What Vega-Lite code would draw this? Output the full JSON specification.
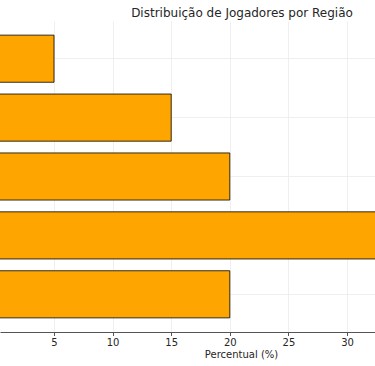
{
  "$schema": "https://vega.github.io/schema/vega-lite/v6.json",
  "autosize": "none",
  "width": 375,
  "height": 311,
  "padding": {"top": 21, "left": 0, "right": 0, "bottom": 34},
  "background": "white",
  "title": {
    "text": "Distribuição de Jogadores por Região",
    "font": "DejaVu Sans",
    "fontSize": 12,
    "fontWeight": "normal",
    "color": "#262626",
    "anchor": "middle",
    "dx": 54.5,
    "offset": 1
  },
  "config": {
    "view": {"stroke": null},
    "axis": {
      "labelFont": "DejaVu Sans",
      "titleFont": "DejaVu Sans",
      "gridColor": "#ebebeb",
      "gridWidth": 0.8
    }
  },
  "data": {
    "values": [
      {"regiao": "Norte", "percentual": 5},
      {"regiao": "Centro-Oeste", "percentual": 15},
      {"regiao": "Nordeste", "percentual": 20},
      {"regiao": "Sudeste", "percentual": 40},
      {"regiao": "Sul", "percentual": 20}
    ]
  },
  "mark": {"type": "bar", "color": "#FFA500", "stroke": "#000000", "strokeWidth": 0.8, "clip": true},
  "encoding": {
    "y": {
      "field": "regiao",
      "type": "nominal",
      "sort": null,
      "scale": {"paddingInner": 0.2, "paddingOuter": 0.24},
      "axis": {"labels": false, "ticks": false, "domain": false, "title": null, "grid": true}
    },
    "x": {
      "field": "percentual",
      "type": "quantitative",
      "scale": {"domain": [0.39, 32.39], "nice": false, "zero": false},
      "axis": {
        "values": [5, 10, 15, 20, 25, 30],
        "title": "Percentual (%)",
        "titleFontSize": 10,
        "titleFontWeight": "normal",
        "titleColor": "#262626",
        "titleX": 241,
        "titlePadding": 2,
        "labelFontSize": 10,
        "labelColor": "#262626",
        "labelPadding": 2,
        "tickSize": 3.5,
        "tickColor": "#555555",
        "domainColor": "#555555",
        "domainWidth": 1.2,
        "grid": true
      }
    }
  }
}
